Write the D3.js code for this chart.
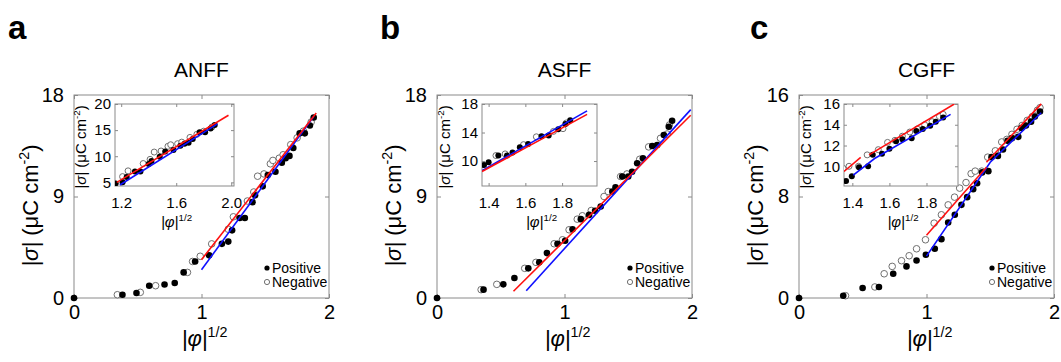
<!DOCTYPE html>
<html>
<head>
<meta charset="utf-8">
<script src="https://cdn.jsdelivr.net/npm/d3@7"></script>
<style>
  body { margin: 0; background: #fff; }
  text { font-family: Arial, "Liberation Sans", sans-serif; }
</style>
</head>
<body>
<svg id="chart" width="1061" height="362"></svg>
<script>
// ---- data ----
const panelLetters = ["a", "b", "c"];
const panelTitles = ["ANFF", "ASFF", "CGFF"];
const xTickValues = [0, 1, 2];
const yMaxes = [18, 18, 16];
const yTickValues = [[0, 9, 18], [0, 9, 18], [0, 8, 16]];
const insetXDomains = [[1.155, 2.02], [1.364, 1.99], [1.355, 1.97]];
const insetYDomains = [[4.3, 20], [6.5, 18], [8.1, 16]];
const insetXTickValues = [[1.2, 1.6, 2.0], [1.4, 1.6, 1.8], [1.4, 1.6, 1.8]];
const insetYTickValues = [[5, 10, 15, 20], [10, 14, 18], [10, 12, 14, 16]];
const legendLabels = ["Positive", "Negative"];

const positiveA = [[0, 0], [0.38, 0.29], [0.49, 0.44], [0.59, 1.09], [0.71, 1.2], [0.79, 1.33], [0.86, 2.27],
  [0.95, 3.24], [1.06, 3.78], [1.16, 4.8], [1.21, 5.0], [1.24, 6.0], [1.30, 7.1], [1.34, 7.1], [1.40, 8.5],
  [1.42, 9.1], [1.48, 9.9], [1.52, 10.9], [1.58, 11.2], [1.63, 12.0], [1.66, 12.4], [1.69, 12.6], [1.72, 13.3],
  [1.77, 14.6], [1.81, 14.6], [1.85, 15.3], [1.88, 16.0]];
const negativeA = [[0.34, 0.29], [0.52, 0.5], [0.64, 1.09], [0.89, 2.27], [0.93, 3.24], [0.99, 3.7], [1.08, 4.8],
  [1.21, 6.1], [1.25, 7.2], [1.36, 8.6], [1.41, 9.4], [1.44, 10.8], [1.49, 11.0], [1.54, 11.9], [1.56, 12.2],
  [1.61, 12.4], [1.64, 12.7], [1.70, 13.6], [1.75, 14.2], [1.80, 14.8], [1.86, 15.6]];

const positiveB = [[0, 0], [0.365, 0.74], [0.52, 1.21], [0.607, 1.77], [0.716, 2.63], [0.802, 3.16], [0.862, 3.98],
  [0.945, 4.81], [1.005, 5.07], [1.063, 6.1], [1.128, 6.99], [1.193, 7.37], [1.24, 7.73], [1.284, 8.11],
  [1.375, 9.44], [1.40, 9.82], [1.453, 10.77], [1.50, 10.77], [1.53, 11.2], [1.57, 11.95], [1.615, 12.39],
  [1.688, 13.48], [1.727, 13.57], [1.779, 14.45], [1.818, 15.19], [1.844, 15.72]];
const negativeB = [[0.346, 0.74], [0.469, 1.21], [0.688, 2.63], [0.776, 3.16], [0.919, 4.81], [0.984, 5.16],
  [1.036, 6.05], [1.10, 6.99], [1.14, 7.29], [1.21, 7.76], [1.31, 9.0], [1.343, 9.44], [1.44, 10.77],
  [1.49, 11.0], [1.59, 12.3], [1.66, 13.4], [1.753, 14.16], [1.805, 14.54], [1.823, 15.34]];

const positiveC = [[0, 0], [0.347, 0.18], [0.499, 0.79], [0.627, 0.87], [0.739, 1.91], [0.843, 2.49], [0.922, 2.96],
  [0.995, 3.41], [1.065, 3.88], [1.117, 4.64], [1.17, 5.95], [1.222, 6.56], [1.274, 7.34], [1.319, 7.95],
  [1.366, 8.58], [1.397, 9.05], [1.436, 9.9], [1.485, 10.0], [1.51, 11.1], [1.56, 11.2], [1.60, 11.7],
  [1.636, 12.4], [1.67, 12.6], [1.72, 12.7], [1.745, 13.4], [1.78, 13.6], [1.82, 13.9], [1.85, 14.3], [1.89, 14.7]];
const negativeC = [[0.365, 0.18], [0.595, 0.87], [0.668, 1.91], [0.731, 2.49], [0.804, 2.94], [0.864, 3.33],
  [0.922, 3.88], [0.992, 4.59], [1.06, 5.9], [1.117, 6.56], [1.17, 7.34], [1.22, 7.95], [1.26, 8.66], [1.31, 9.1],
  [1.35, 9.8], [1.382, 10.0], [1.433, 10.0], [1.48, 11.1], [1.54, 11.6], [1.59, 12.3], [1.63, 12.5], [1.67, 12.9],
  [1.71, 13.3], [1.75, 13.6], [1.79, 14.0], [1.83, 14.3], [1.87, 14.8], [1.89, 15.0]];

// linear fits, each an array of segments
const fitPositiveA = [[[1.0, 2.5], [1.88, 16.1]]];
const fitNegativeA = [[[1.0, 3.4], [1.9, 16.4]]];
const fitPositiveB = [[[0.70, 0.65], [1.99, 16.7]]];
const fitNegativeB = [[[0.60, 0.6], [1.99, 16.2]]];
const fitPositiveC = [[[1.0, 3.3], [1.5, 10.7], [1.9, 14.6]]];
const fitNegativeC = [[[1.0, 4.95], [1.47, 10.3]], [[1.47, 10.7], [1.9, 15.3]]];

const insetFitPositiveA = [[[1.19, 4.5], [1.9, 16.2]]];
const insetFitNegativeA = [[[1.168, 5.0], [1.98, 17.85]]];
const insetFitPositiveB = [[[1.364, 8.64], [1.936, 17.04]]];
const insetFitNegativeB = [[[1.364, 8.54], [1.936, 16.55]]];
const insetFitPositiveC = [[[1.405, 9.15], [1.52, 10.75], [1.93, 15.0]]];
const insetFitNegativeC = [[[1.355, 9.5], [1.445, 10.85]], [[1.49, 11.1], [1.95, 16.0]]];

const panelData = [
  {pos: positiveA, neg: negativeA, fitPos: fitPositiveA, fitNeg: fitNegativeA, insetPos: insetFitPositiveA, insetNeg: insetFitNegativeA},
  {pos: positiveB, neg: negativeB, fitPos: fitPositiveB, fitNeg: fitNegativeB, insetPos: insetFitPositiveB, insetNeg: insetFitNegativeB},
  {pos: positiveC, neg: negativeC, fitPos: fitPositiveC, fitNeg: fitNegativeC, insetPos: insetFitPositiveC, insetNeg: insetFitNegativeC}
];

// ---- layout ----
const axisColor = "#8a8a8a";
const openColor = "#707070";
const layout = [
  {left: 74, letterX: 8, insetLeft: 41, insetWidth: 119, insetYLabel: -29},
  {left: 437, letterX: 380, insetLeft: 45, insetWidth: 115, insetYLabel: -32},
  {left: 799, letterX: 750, insetLeft: 45, insetWidth: 114, insetYLabel: -33}
];
const plotTop = 95, plotWidth = 255, plotHeight = 203, insetTop = 9, insetHeight = 82;
const insetFont = 15;

const svg = d3.select("#chart");

function styleAxis(sel, size) {
  sel.select(".domain").remove();
  sel.attr("font-family", null).attr("font-size", size);
  sel.selectAll(".tick line").attr("stroke", axisColor);
  sel.selectAll(".tick text").attr("fill", "#000");
}

function sigmaLabel(t, size) {
  t.append("tspan").attr("font-style", "italic").text("|σ|");
  t.append("tspan").text(" (μC cm");
  t.append("tspan").attr("font-size", size * 0.65).attr("dy", -size * 0.4).text("-2");
  t.append("tspan").attr("dy", size * 0.4).text(")");
}

function phiLabel(t, size) {
  t.append("tspan").attr("font-style", "italic").text("|φ|");
  t.append("tspan").attr("font-size", size * 0.65).attr("dy", -size * 0.4).text("1/2");
}

function drawMarks(g, d, x, y, r, filter) {
  const line = d3.line().x(p => x(p[0])).y(p => y(p[1]));
  g.append("g").selectAll("circle")
    .data(d.neg.filter(filter))
    .join("circle")
      .attr("cx", p => x(p[0])).attr("cy", p => y(p[1])).attr("r", r)
      .attr("fill", "#fff").attr("stroke", openColor).attr("stroke-width", 1);
  g.append("g").selectAll("circle")
    .data(d.pos.filter(filter))
    .join("circle")
      .attr("cx", p => x(p[0])).attr("cy", p => y(p[1])).attr("r", r)
      .attr("fill", "#000");
  return line;
}

function drawFits(g, segsPos, segsNeg, line) {
  g.append("g").selectAll("path")
    .data(segsPos)
    .join("path")
      .attr("d", line).attr("fill", "none").attr("stroke", "#1010ff").attr("stroke-width", 1.6);
  g.append("g").selectAll("path")
    .data(segsNeg)
    .join("path")
      .attr("d", line).attr("fill", "none").attr("stroke", "#ff1010").attr("stroke-width", 1.6);
}

panelData.forEach((d, i) => {
  const L = layout[i];
  const g = svg.append("g").attr("transform", `translate(${L.left},${plotTop})`);

  const x = d3.scaleLinear().domain([0, 2]).range([0, plotWidth]);
  const y = d3.scaleLinear().domain([0, yMaxes[i]]).range([plotHeight, 0]);

  g.append("rect").attr("width", plotWidth).attr("height", plotHeight)
    .attr("fill", "#fff").attr("stroke", axisColor).attr("stroke-width", 1);

  g.append("g").attr("transform", `translate(0,${plotHeight})`)
    .call(d3.axisBottom(x).tickValues(xTickValues).tickSizeInner(-4).tickSizeOuter(0).tickPadding(7).tickFormat(d3.format("d")))
    .call(s => styleAxis(s, 20));
  g.append("g")
    .call(d3.axisTop(x).tickValues(xTickValues).tickSizeInner(-4).tickSizeOuter(0).tickFormat(""))
    .call(s => styleAxis(s, 20));
  g.append("g")
    .call(d3.axisLeft(y).tickValues(yTickValues[i]).tickSizeInner(-4).tickSizeOuter(0).tickPadding(10))
    .call(s => styleAxis(s, 20));
  g.append("g").attr("transform", `translate(${plotWidth},0)`)
    .call(d3.axisRight(y).tickValues(yTickValues[i]).tickSizeInner(-4).tickSizeOuter(0).tickFormat(""))
    .call(s => styleAxis(s, 20));

  const line = drawMarks(g, d, x, y, 3.3, () => true);
  drawFits(g, d.fitPos, d.fitNeg, line);

  // axis labels, title, panel letter
  g.append("text").attr("transform", `translate(-36,${plotHeight / 2 + 9}) rotate(-90)`)
    .attr("text-anchor", "middle").attr("font-size", 22).call(t => sigmaLabel(t, 22));
  g.append("text").attr("x", plotWidth / 2 + 3).attr("y", 251)
    .attr("text-anchor", "middle").attr("font-size", 22).call(t => phiLabel(t, 22));
  g.append("text").attr("x", plotWidth / 2).attr("y", -18)
    .attr("text-anchor", "middle").attr("font-size", 21).text(panelTitles[i]);
  svg.append("text").attr("x", L.letterX).attr("y", 39)
    .attr("font-size", 33).attr("font-weight", "bold").text(panelLetters[i]);

  // legend
  const lg = g.append("g").attr("transform", `translate(${plotWidth - 62},173)`);
  legendLabels.forEach((lab, k) => {
    lg.append("circle").attr("cx", 0).attr("cy", k * 14).attr("r", 2.6)
      .attr("fill", k === 0 ? "#000" : "#fff").attr("stroke", k === 0 ? "none" : openColor);
    lg.append("text").attr("x", 5).attr("y", k * 14 + 5).attr("font-size", 14).text(lab);
  });

  // inset
  const ix = d3.scaleLinear().domain(insetXDomains[i]).range([0, L.insetWidth]);
  const iy = d3.scaleLinear().domain(insetYDomains[i]).range([insetHeight, 0]);
  const ig = g.append("g").attr("transform", `translate(${L.insetLeft},${insetTop})`);
  ig.append("rect").attr("width", L.insetWidth).attr("height", insetHeight)
    .attr("fill", "#fff").attr("stroke", axisColor);
  svg.append("clipPath").attr("id", "clip" + i)
    .append("rect").attr("width", L.insetWidth).attr("height", insetHeight);

  ig.append("g").attr("transform", `translate(0,${insetHeight})`)
    .call(d3.axisBottom(ix).tickValues(insetXTickValues[i]).tickSizeInner(-3).tickSizeOuter(0).tickPadding(11).tickFormat(d3.format(".1f")))
    .call(s => styleAxis(s, insetFont));
  ig.append("g")
    .call(d3.axisTop(ix).tickValues(insetXTickValues[i]).tickSizeInner(-3).tickSizeOuter(0).tickFormat(""))
    .call(s => styleAxis(s, insetFont));
  ig.append("g")
    .call(d3.axisLeft(iy).tickValues(insetYTickValues[i]).tickSizeInner(-3).tickSizeOuter(0).tickPadding(4))
    .call(s => styleAxis(s, insetFont));
  ig.append("g").attr("transform", `translate(${L.insetWidth},0)`)
    .call(d3.axisRight(iy).tickValues(insetYTickValues[i]).tickSizeInner(-3).tickSizeOuter(0).tickFormat(""))
    .call(s => styleAxis(s, insetFont));

  const inner = ig.append("g").attr("clip-path", `url(#clip${i})`);
  const xd = insetXDomains[i], yd = insetYDomains[i];
  const iline = drawMarks(inner, d, ix, iy, 3,
    p => p[0] >= xd[0] - 0.01 && p[0] <= xd[1] && p[1] >= yd[0] - 0.3 && p[1] <= yd[1]);
  drawFits(inner, d.insetPos, d.insetNeg, iline);

  ig.append("text").attr("transform", `translate(${L.insetYLabel},${insetHeight / 2 + 2}) rotate(-90)`)
    .attr("text-anchor", "middle").attr("font-size", insetFont).call(t => sigmaLabel(t, insetFont));
  ig.append("text").attr("x", L.insetWidth / 2 + 2).attr("y", 123)
    .attr("text-anchor", "middle").attr("font-size", insetFont).call(t => phiLabel(t, insetFont));
});
</script>
</body>
</html>
